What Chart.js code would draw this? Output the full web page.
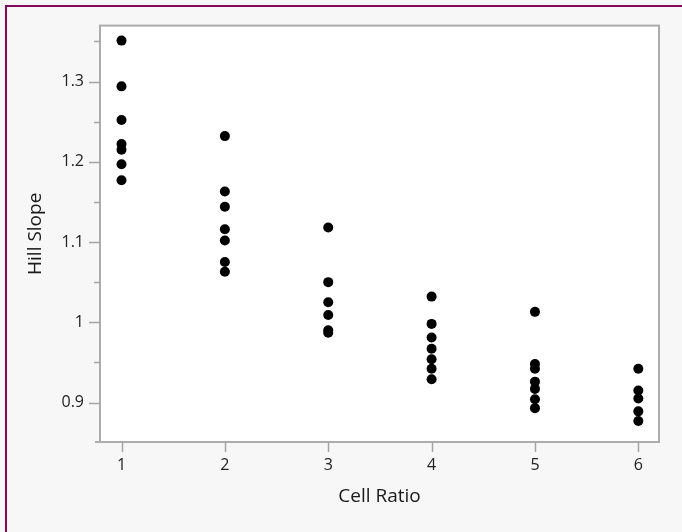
<!DOCTYPE html>
<html>
<head>
<meta charset="utf-8">
<script src="https://cdn.jsdelivr.net/npm/chart.js@4/dist/chart.umd.min.js"></script>
<style>
html,body{margin:0;padding:0;background:#f7f7f7;}
#wrap{width:682px;height:532px;position:relative;}
</style>
</head>
<body>
<div id="wrap"><canvas id="c" width="682" height="532"></canvas></div>
<script>
// Data
const cellRatios = [1, 2, 3, 4, 5, 6];
const hillSlope1 = [1.351, 1.294, 1.252, 1.222, 1.215, 1.197, 1.177];
const hillSlope2 = [1.232, 1.163, 1.144, 1.116, 1.102, 1.075, 1.063];
const hillSlope3 = [1.118, 1.050, 1.025, 1.009, 0.990, 0.987];
const hillSlope4 = [1.032, 0.998, 0.981, 0.967, 0.954, 0.942, 0.929];
const hillSlope5 = [1.013, 0.948, 0.942, 0.926, 0.917, 0.904, 0.893];
const hillSlope6 = [0.942, 0.915, 0.905, 0.889, 0.877];
const yTickValues = [0.9, 0.95, 1.0, 1.05, 1.1, 1.15, 1.2, 1.25, 1.3, 1.35];
const yTickLabels = ["0.9", "", "1", "", "1.1", "", "1.2", "", "1.3", ""];
const xTickLabels = ["1", "2", "3", "4", "5", "6"];

const groups = [hillSlope1, hillSlope2, hillSlope3, hillSlope4, hillSlope5, hillSlope6];
const points = [];
groups.forEach((g, i) => g.forEach(v => points.push({x: cellRatios[i], y: v})));

const FONT = "'Open Sans', 'Noto Sans', sans-serif";
const frameColor = '#acacac';
const tickColor = '#a4a4a4';

const framePlugin = {
  id: 'frame',
  beforeDraw(chart) {
    const ctx = chart.ctx;
    const a = chart.chartArea;
    ctx.save();
    ctx.fillStyle = '#f7f7f7';
    ctx.fillRect(0, 0, chart.width, chart.height);
    ctx.fillStyle = '#ffffff';
    ctx.fillRect(a.left, a.top, a.right - a.left, a.bottom - a.top);
    // outer purple border (top and left)
    ctx.fillStyle = '#870a5a';
    ctx.fillRect(5, 5, chart.width - 5, 2);
    ctx.fillRect(5, 5, 2, chart.height - 5);
    ctx.restore();
  },
  afterDatasetsDraw(chart) {
    const ctx = chart.ctx;
    const a = chart.chartArea;
    const xs = chart.scales.x, ys = chart.scales.y;
    ctx.save();
    ctx.strokeStyle = frameColor;
    ctx.lineWidth = 2;
    ctx.strokeRect(a.left, a.top, a.right - a.left, a.bottom - a.top);
    // bottom axis line extends slightly left
    ctx.beginPath();
    ctx.moveTo(a.left - 5, a.bottom);
    ctx.lineTo(a.left, a.bottom);
    ctx.stroke();
    // ticks
    ctx.strokeStyle = tickColor;
    ctx.lineWidth = 1.5;
    yTickValues.forEach((v, i) => {
      const y = Math.round(ys.getPixelForValue(v)) + 0.5;
      const len = yTickLabels[i] ? 11 : 6;
      ctx.beginPath();
      ctx.moveTo(a.left - len, y);
      ctx.lineTo(a.left, y);
      ctx.stroke();
    });
    cellRatios.forEach(v => {
      const x = Math.round(xs.getPixelForValue(v)) + 0.5;
      ctx.beginPath();
      ctx.moveTo(x, a.bottom);
      ctx.lineTo(x, a.bottom + 10);
      ctx.stroke();
    });
    ctx.restore();
  }
};

new Chart(document.getElementById('c'), {
  type: 'scatter',
  data: {
    datasets: [{
      data: points,
      backgroundColor: '#000000',
      borderWidth: 0,
      pointRadius: 5,
      pointHoverRadius: 5
    }]
  },
  options: {
    responsive: false,
    animation: false,
    events: [],
    plugins: { legend: { display: false }, tooltip: { enabled: false } },
    layout: { padding: { left: 0, top: 23, right: 23, bottom: 0 } },
    scales: {
      x: {
        type: 'linear',
        min: 0.792,
        max: 6.2,
        afterFit(s) { s.height = 90; },
        afterBuildTicks(s) { s.ticks = cellRatios.map(v => ({value: v})); },
        grid: { display: false, drawTicks: false },
        border: { display: false },
        ticks: {
          padding: 14,
          color: '#222222',
          font: { family: FONT, size: 16 },
          callback: (v, i) => xTickLabels[i]
        },
        title: {
          display: true,
          text: 'Cell Ratio',
          color: '#1a1a1a',
          font: { family: FONT, size: 19 },
          padding: { top: 0, bottom: 24 }
        }
      },
      y: {
        type: 'linear',
        min: 0.8508,
        max: 1.3697,
        afterFit(s) { s.width = 100; },
        afterBuildTicks(s) { s.ticks = yTickValues.map(v => ({value: v})); },
        grid: { display: false, drawTicks: false },
        border: { display: false },
        ticks: {
          padding: 16,
          color: '#222222',
          font: { family: FONT, size: 16 },
          callback: (v, i) => yTickLabels[i]
        },
        title: {
          display: true,
          text: 'Hill Slope',
          color: '#1a1a1a',
          font: { family: FONT, size: 19 },
          padding: { top: 24, bottom: 0 }
        }
      }
    }
  },
  plugins: [framePlugin]
});
</script>
</body>
</html>
